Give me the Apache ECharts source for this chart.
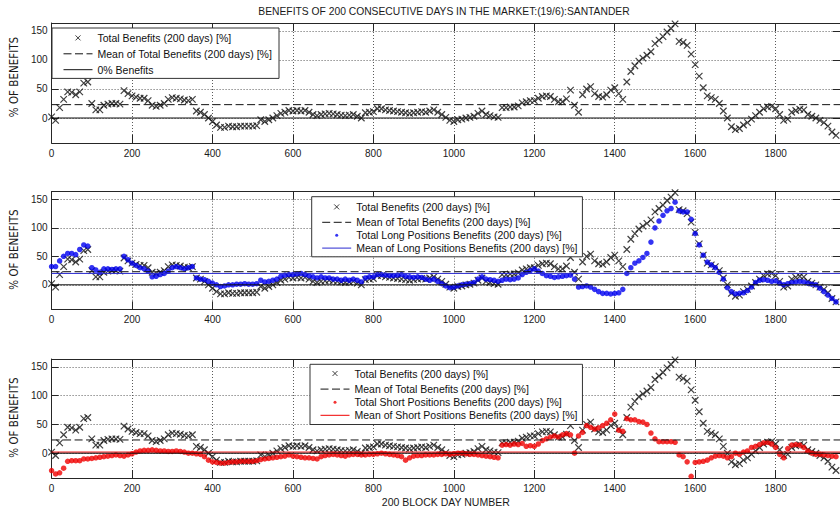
<!DOCTYPE html>
<html>
<head>
<meta charset="utf-8">
<script src="https://cdn.jsdelivr.net/npm/echarts@6/dist/echarts.min.js"></script>
<style>html,body{margin:0;padding:0;background:#fff}#c{width:840px;height:508px}</style>
</head>
<body>
<div id="c"></div>
<script>
const STEP = 10;
const totalBenefits = [
  2, -4, 18, 32, 45, 44, 40, 45, 60, 62,
  25, 14, 14, 22, 24, 25, 25, 24, 47, 42,
  38, 36, 34, 34, 30, 22, 20, 22, 25, 32,
  35, 34, 33, 31, 30, 32, 12, 10, 6, 0,
  -6, -12, -16, -16, -14, -15, -15, -14, -14, -14,
  -14, -13, -3, -6, -3, 0, 4, 8, 10, 13,
  12, 13, 12, 13, 10, 6, 4, 6, 7, 8,
  7, 6, 5, 4, 5, 6, 3, 0, 9, 10,
  11, 16, 16, 14, 13, 12, 11, 10, 9, 8,
  9, 10, 11, 10, 12, 14, 10, 6, 1, -4,
  -6, -3, -2, 0, 1, 3, 8, 12, 6, 4,
  2, 1, 18, 18, 19, 19, 21, 26, 28, 30,
  30, 34, 37, 38, 37, 32, 28, 28, 33, 48,
  22, 10, 40, 50, 54, 42, 37, 36, 40, 48,
  52, 42, 32, 62, 80, 90, 98, 103, 108, 114,
  128, 134, 140, 148, 154, 162, 132, 130, 125, 110,
  92, 72, 52, 38, 35, 32, 25, 12, 0, -15,
  -20, -18, -12, -8, -2, 4, 10, 16, 19, 20,
  16, 6, -4, -2, 10, 13, 15, 14, 6, 3,
  0, -4, -8, -14, -24, -30
];
const longBenefits = [
  32, 32, 42, 50, 55, 55, 53, 62, 70, 68,
  30, 26, 22, 28, 28, 27, 28, 28, 50, 44,
  38, 34, 30, 28, 24, 14, 15, 18, 20, 24,
  30, 32, 30, 28, 30, 32, 12, 10, 9, 6,
  3, 0, -3, -2, 0, 0, 1, 1, 2, 1,
  1, 2, 8, 5, 6, 8, 10, 15, 17, 18,
  18, 19, 20, 18, 16, 14, 12, 14, 12, 12,
  10, 10, 8, 10, 8, 10, 8, 5, 12, 14,
  14, 18, 18, 17, 16, 16, 17, 18, 15, 14,
  13, 14, 13, 10, 8, 10, 6, 2, -2, -5,
  -4, -2, 0, 1, 2, 4, 10, 14, 10, 9,
  8, 6, 8, 10, 9, 10, 12, 18, 22, 25,
  28, 24, 20, 16, 15, 13, 14, 15, 16, 17,
  10, -4, -3, -2, -4, -8, -12, -15, -15, -16,
  -15, -14, -8, 20, 30, 38, 42, 48, 55, 75,
  100, 112, 122, 130, 134, 145, 130, 128, 128, 115,
  90, 70, 52, 40, 35, 30, 22, 10, -5, -12,
  -16, -15, -14, -10, -4, 4, 8, 9, 8, 6,
  7, 3, 0, 2, 4, 5, 6, 5, 3, 1,
  0, -6, -12, -18, -24, -30
];
const shortBenefits = [
  -30, -36, -34, -26, -14, -13, -13, -13, -10, -10,
  -9, -8, -7, -6, -5, -4, -3, -4, -5, -3,
  -1, 2, 4, 5, 5, 6, 5, 4, 4, 3,
  3, 4, 3, 2, 0, 0, -1, -2, -6, -12,
  -15, -16, -17, -17, -16, -15, -15, -14, -14, -14,
  -14, -13, -11, -10, -9, -8, -7, -6, -5, -3,
  -5, -6, -7, -8, -8, -9, -10, -6, -4, -3,
  -2, -3, -4, -5, -3, -2, -2, -3, -3, -2,
  -2, -1, 0, -1, -2, -3, -4, -6, -12, -8,
  -5, -4, -4, -3, -3, -3, -2, -2, -1, -2,
  -1, 0, 0, -1, -2, -2, -3, -4, -5, -6,
  -7, -8, 14, 15, 14, 16, 15, 17, 12, 13,
  12, 16, 22, 25, 28, 30, 28, 32, 34, 32,
  0, 30, 36, 48, 45, 42, 44, 48, 52, 58,
  68, 40, 38, 60, 58, 58, 55, 54, 50, 35,
  25, 20, 20, 20, 20, 19, -3, -6, -15, -40,
  -16, -15, -14, -12, -8, -5, -4, -5, -8, -6,
  0, -2, 2, 4, 10, 12, 15, 18, 19, 16,
  10, -2, -8, 8, 14, 15, 14, 10, 4, 0,
  -2, -2, -3, -4, -5, -6
];
const meanTotal = 23;
const meanLong = 20;
const meanShort = 2;
const zeroLevel = 0;
const yTickValues = [0, 50, 100, 150];
const xTickInterval = 200;

const titleText = 'BENEFITS OF 200 CONSECUTIVE DAYS IN THE MARKET:(19/6):SANTANDER';
const yName = '% OF BENEFITS';
const xName = '200 BLOCK DAY NUMBER';
const NAME_TOTAL = 'Total Benefits (200 days) [%]';
const NAME_MEAN_TOTAL = 'Mean of Total Benefits (200 days) [%]';
const NAME_ZERO = '0% Benefits';
const NAME_LONG = 'Total Long Positions Benefits (200 days) [%]';
const NAME_MEAN_LONG = 'Mean of Long Positions Benefits (200 days) [%]';
const NAME_SHORT = 'Total Short Positions Benefits (200 days) [%]';
const NAME_MEAN_SHORT = 'Mean of Short Positions Benefits (200 days) [%]';

// ---- build ----
const days = totalBenefits.map((_, i) => i * STEP);
const XMIN = 0, XMAX = 1960, YMIN = -43, YMAX = 163.5;
const FONT = '"Liberation Sans", Arial, Helvetica, sans-serif';
const NARROW = '"Liberation Sans Narrow", "DejaVu Sans Condensed", ' + FONT;
const AX = '#262626';
const GRIDC = '#5a5a5a';
const BLUE = '#0000f0';
const RED = '#f00000';
const CROSS = 'path://M0,0L10,10M10,0L0,10';

const toPts = arr => days.map((d, i) => [d, arr[i]]);
const hline = v => [[XMIN, v], [XMAX, v]];

const gridDefs = [
  { top: 23, height: 120, namePad: [0, 0, 0, 12] },
  { top: 191.7, height: 117.6, namePad: [0, 0, 0, 2] },
  { top: 359, height: 119, namePad: [0, 0, 0, 2] }
];
const grid = gridDefs.map(g => ({ left: 47.7, top: g.top, width: 796.7, height: g.height, containLabel: false }));

const xAxis = [], yAxis = [];
gridDefs.forEach((g, gi) => {
  xAxis.push({
    type: 'value', gridIndex: gi, min: XMIN, max: XMAX, interval: xTickInterval, position: 'bottom',
    axisLine: { show: true, onZero: false, lineStyle: { color: AX, width: 1 } },
    axisTick: { show: true, inside: true, length: 8, lineStyle: { color: AX } },
    axisLabel: { show: true, color: '#1a1a1a', fontSize: 10, fontFamily: FONT, margin: 5, showMaxLabel: false,
                 formatter: v => String(v) },
    splitLine: { show: true, lineStyle: { color: GRIDC, type: [1, 2], width: 1 } },
    name: gi === 2 ? xName : '', nameLocation: 'middle', nameGap: 18,
    nameTextStyle: { fontSize: 10.5, fontFamily: FONT, color: '#1a1a1a' }
  });
  xAxis.push({
    type: 'value', gridIndex: gi, min: XMIN, max: XMAX, interval: xTickInterval, position: 'top',
    axisLine: { show: true, onZero: false, lineStyle: { color: AX, width: 1 } },
    axisTick: { show: true, inside: true, length: 8, lineStyle: { color: AX } },
    axisLabel: { show: false }, splitLine: { show: false }
  });
  yAxis.push({
    type: 'value', gridIndex: gi, min: YMIN, max: YMAX, position: 'left',
    axisLine: { show: true, onZero: false, lineStyle: { color: AX, width: 1 } },
    axisTick: { show: true, inside: true, length: 7, customValues: yTickValues, lineStyle: { color: AX } },
    axisLabel: { show: true, customValues: yTickValues, color: '#1a1a1a', fontSize: 10, fontFamily: FONT, margin: 4 },
    splitLine: { show: true, lineStyle: { color: GRIDC, type: [1, 2], width: 1 } },
    name: yName, nameLocation: 'middle', nameGap: 23,
    nameTextStyle: { fontSize: 11.5, fontFamily: NARROW, color: '#1a1a1a', padding: g.namePad }
  });
  yAxis.push({
    type: 'value', gridIndex: gi, min: YMIN, max: YMAX, position: 'right',
    axisLine: { show: true, onZero: false, lineStyle: { color: AX, width: 1 } },
    axisTick: { show: true, inside: true, length: 7, customValues: yTickValues, lineStyle: { color: AX } },
    axisLabel: { show: false }, splitLine: { show: false }
  });
});

function scatterTotal(gi) {
  return {
    name: NAME_TOTAL, type: 'scatter', xAxisIndex: 2 * gi, yAxisIndex: 2 * gi,
    data: toPts(totalBenefits), symbol: CROSS, symbolSize: 6.5,
    itemStyle: { color: 'none', borderColor: '#111', borderWidth: 1.2 }, silent: true
  };
}
function hLineSeries(name, gi, v, color, type) {
  return {
    name, type: 'line', xAxisIndex: 2 * gi, yAxisIndex: 2 * gi, data: hline(v),
    symbol: 'none', lineStyle: { color, width: 1, type }, itemStyle: { color }, silent: true
  };
}
function dots(name, gi, arr, color) {
  return {
    name, type: 'scatter', xAxisIndex: 2 * gi, yAxisIndex: 2 * gi, data: toPts(arr),
    symbol: 'circle', symbolSize: 5.5, itemStyle: { color }, silent: true
  };
}

const series = [
  scatterTotal(0),
  hLineSeries(NAME_MEAN_TOTAL, 0, meanTotal, '#111', [8, 3.5]),
  hLineSeries(NAME_ZERO, 0, zeroLevel, '#111', 'solid'),

  scatterTotal(1),
  hLineSeries(NAME_MEAN_TOTAL, 1, meanTotal, '#111', [8, 3.5]),
  dots(NAME_LONG, 1, longBenefits, BLUE),
  hLineSeries(NAME_MEAN_LONG, 1, meanLong, '#2a2ad0', 'solid'),
  hLineSeries(NAME_ZERO, 1, zeroLevel, '#111', 'solid'),

  scatterTotal(2),
  hLineSeries(NAME_MEAN_TOTAL, 2, meanTotal, '#111', [8, 3.5]),
  dots(NAME_SHORT, 2, shortBenefits, RED),
  hLineSeries(NAME_MEAN_SHORT, 2, meanShort, RED, 'solid'),
  hLineSeries(NAME_ZERO, 2, zeroLevel, '#111', 'solid')
];

const IW = 29, IH = 12;
const BOX = 'M0,0M' + IW + ',' + IH;
const ICON_CROSS = 'path://' + BOX + 'M12,3.5L17,8.5M17,3.5L12,8.5';
const ICON_LINE = 'path://' + BOX + 'M0,6L' + IW + ',6';
const ICON_DOT = 'path://' + BOX + 'M13,6A1.5,1.5,0,1,1,16,6A1.5,1.5,0,1,1,13,6Z';

const itCross = name => ({ name, icon: ICON_CROSS, itemStyle: { color: 'none', borderColor: '#111', borderWidth: 1, borderType: 'solid' } });
const itLine = (name, color, type) => ({ name, icon: ICON_LINE, itemStyle: { color: 'none', borderColor: color, borderWidth: 1, borderType: type } });
const itDot = (name, color) => ({ name, icon: ICON_DOT, itemStyle: { color, borderWidth: 0 } });

const legendBase = {
  orient: 'vertical', itemWidth: IW, itemHeight: IH,
  borderColor: '#333', borderWidth: 1, backgroundColor: '#fff', selectedMode: false,
  textStyle: { fontSize: 10.5, fontFamily: FONT, color: '#111', lineHeight: 12 }
};
const legend = [
  Object.assign({}, legendBase, {
    left: 52, top: 28, padding: [1.4, 7, 0.2, 9], itemGap: -1.1,
    data: [itCross(NAME_TOTAL), itLine(NAME_MEAN_TOTAL, '#111', [8, 3.5]), itLine(NAME_ZERO, '#111', 'solid')]
  }),
  Object.assign({}, legendBase, {
    left: 311.7, top: 196.7, padding: [1.7, 5, 0.2, 8], itemGap: -1.6,
    data: [itCross(NAME_TOTAL), itLine(NAME_MEAN_TOTAL, '#111', [8, 3.5]), itDot(NAME_LONG, BLUE), itLine(NAME_MEAN_LONG, '#2a2ad0', 'solid')]
  }),
  Object.assign({}, legendBase, {
    left: 310, top: 364.3, padding: [0.7, 5, 0.7, 8], itemGap: -1.4,
    data: [itCross(NAME_TOTAL), itLine(NAME_MEAN_TOTAL, '#111', [8, 3.5]), itDot(NAME_SHORT, RED), itLine(NAME_MEAN_SHORT, RED, 'solid')]
  })
];

const chart = echarts.init(document.getElementById('c'), null, { renderer: 'svg' });
chart.setOption({
  animation: false,
  backgroundColor: '#fff',
  title: {
    text: titleText, left: 444, top: 6, padding: 0, textAlign: 'center',
    textStyle: { fontSize: 10.3, fontWeight: 'normal', color: '#1a1a1a', fontFamily: FONT }
  },
  grid, xAxis, yAxis, legend, series
});
</script>
</body>
</html>
